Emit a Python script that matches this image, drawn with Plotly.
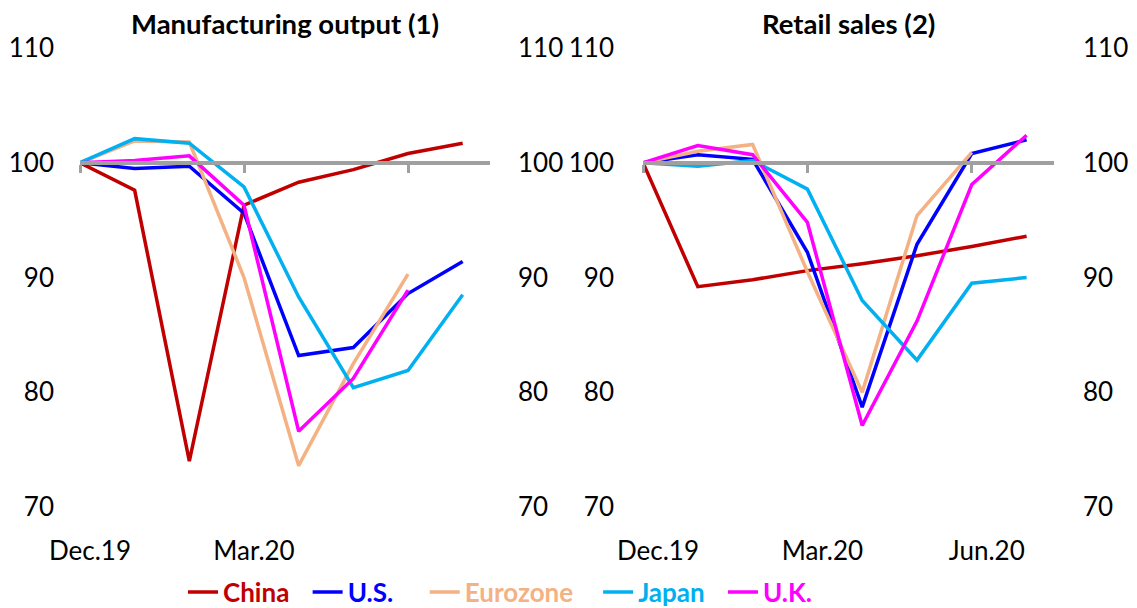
import plotly.graph_objects as go

# ---------------- data ----------------
months = ["Dec.19", "Jan.20", "Feb.20", "Mar.20", "Apr.20", "May.20", "Jun.20", "Jul.20"]
series_names = ["China", "U.S.", "Eurozone", "Japan", "U.K."]

# Manufacturing output (1), index Dec.19 = 100
china_mfg = [100, 97.6, 74.0, 96.3, 98.3, 99.4, 100.8, 101.7]
us_mfg = [100, 99.5, 99.7, 95.6, 83.2, 83.9, 88.6, 91.4]
ez_mfg = [100, 101.9, 101.8, 90.0, 73.6, 82.5, 90.3, None]
jp_mfg = [100, 102.1, 101.7, 97.9, 88.3, 80.4, 81.9, 88.5]
uk_mfg = [100, 100.2, 100.6, 96.3, 76.6, 81.2, 88.9, None]

# Retail sales (2), index Dec.19 = 100
china_rs = [100, 89.2, 89.8, 90.6, 91.2, 91.9, 92.7, 93.6]
us_rs = [100, 100.7, 100.3, 92.2, 78.7, 92.9, 100.8, 102.0]
ez_rs = [100, 101.0, 101.6, 90.5, 80.0, 95.4, 100.9, None]
jp_rs = [100, 99.7, 100.2, 97.7, 88.0, 82.8, 89.5, 90.0]
uk_rs = [100, 101.5, 100.7, 94.8, 77.1, 86.2, 98.1, 102.4]

y_ticks = [70, 80, 90, 100, 110]
left_xticks = ["Dec.19", "Mar.20"]
right_xticks = ["Dec.19", "Mar.20", "Jun.20"]
baseline_ticks = ["Dec.19", "Mar.20", "Jun.20"]
baseline_value = 100

# ---------------- styles ----------------
colors = ["#C00000", "#0000FF", "#F4B183", "#00B0F0", "#FF00FF"]
trail = [2, 4, 3, 2, 0]          # legend spacing (non-breaking spaces)
FONT = "Lato"
FS = 26
W, H = 1137, 608
OFF = 8                          # page body margin offset (px)
GRAY = "#A0A0A0"


def px_x(p):
    return (p - OFF) / W


def px_y(p):
    return 1 - (p - OFF) / H


x_idx = list(range(len(months)))
pos = {m: i for i, m in enumerate(months)}
x_range = [0, 7.5]
y_range = [70, 110]

# domains (paper fractions)
xl = [px_x(80), px_x(490)]
xr = [px_x(643), px_x(1054)]
yd = [px_y(507), px_y(48)]
base_pos = yd[0] + (baseline_value - y_range[0]) / (y_range[1] - y_range[0]) * (yd[1] - yd[0])

fig = go.Figure()

mfg = [china_mfg, us_mfg, ez_mfg, jp_mfg, uk_mfg]
rs = [china_rs, us_rs, ez_rs, jp_rs, uk_rs]

for i, name in enumerate(series_names):
    label = f'<span style="color:{colors[i]}"><b>{name}</b></span>' + "&nbsp;" * trail[i]
    fig.add_trace(go.Scatter(x=x_idx, y=mfg[i], mode="lines", name=label,
                             line=dict(color=colors[i], width=3.5),
                             xaxis="x", yaxis="y", showlegend=True,
                             legendgroup=name))
for i, name in enumerate(series_names):
    fig.add_trace(go.Scatter(x=x_idx, y=rs[i], mode="lines", name=name,
                             line=dict(color=colors[i], width=3.5),
                             xaxis="x2", yaxis="y3", showlegend=False,
                             legendgroup=name))

# baseline (index = 100) carriers for the mirrored axes; drawn by the axis line
for xa, ya in [("x3", "y2"), ("x4", "y4")]:
    fig.add_trace(go.Scatter(x=x_range, y=[baseline_value, baseline_value],
                             mode="lines", line=dict(color="rgba(0,0,0,0)", width=0),
                             xaxis=xa, yaxis=ya, showlegend=False, hoverinfo="skip"))

tickfont = dict(family=FONT, size=FS, color="#000000")

common_x = dict(range=x_range, showgrid=False, zeroline=False, showline=False,
                ticks="", tickfont=tickfont, ticklabelstandoff=26, automargin=False)
common_y = dict(range=y_range, tickvals=y_ticks, showgrid=False, zeroline=False,
                showline=False, ticks="", tickfont=tickfont, automargin=False)

base_axis = dict(range=x_range, anchor="free", position=base_pos, showline=True,
                 linecolor=GRAY, linewidth=3.5, ticks="outside", ticklen=8,
                 tickwidth=3, tickcolor=GRAY, showticklabels=False,
                 tickvals=[pos[m] for m in baseline_ticks], showgrid=False,
                 zeroline=False, automargin=False)

fig.update_layout(
    width=W, height=H, autosize=False,
    margin=dict(l=0, r=0, t=0, b=0, autoexpand=False),
    paper_bgcolor="white", plot_bgcolor="white",
    font=dict(family=FONT, size=FS, color="#000000"),
    xaxis=dict(domain=xl, anchor="y",
               tickvals=[pos[m] for m in left_xticks], ticktext=left_xticks,
               ticklabelshift=10, **common_x),
    xaxis2=dict(domain=xr, anchor="y3",
                tickvals=[pos[m] for m in right_xticks], ticktext=right_xticks,
                ticklabelshift=15, **common_x),
    xaxis3=dict(overlaying="x", **base_axis),
    xaxis4=dict(overlaying="x2", **base_axis),
    yaxis=dict(domain=yd, anchor="x", side="left", ticklabelstandoff=25, **common_y),
    yaxis2=dict(overlaying="y", anchor="x3", side="right", ticklabelstandoff=27, **common_y),
    yaxis3=dict(domain=yd, anchor="x2", side="left", ticklabelstandoff=28, **common_y),
    yaxis4=dict(overlaying="y3", anchor="x4", side="right", ticklabelstandoff=28, **common_y),
    legend=dict(orientation="h", x=px_x(183), xanchor="left", y=px_y(592),
                yanchor="middle", font=dict(family=FONT, size=FS),
                bgcolor="rgba(0,0,0,0)", itemwidth=30, tracegroupgap=0),
    showlegend=True,
)

titles = ["<b>Manufacturing output (1)</b>", "<b>Retail sales (2)</b>"]
for t, dom in zip(titles, [xl, xr]):
    fig.add_annotation(text=t, xref="paper", yref="paper",
                       x=(dom[0] + dom[1]) / 2, y=px_y(24),
                       xanchor="center", yanchor="middle", showarrow=False,
                       font=dict(family=FONT, size=27.5, color="#000000"))

fig.write_html("out.html")
